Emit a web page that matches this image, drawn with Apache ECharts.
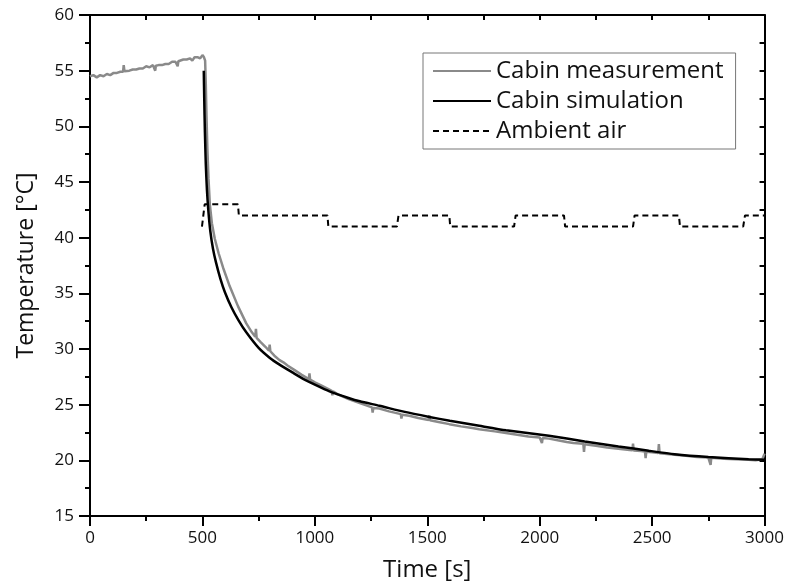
<!DOCTYPE html>
<html>
<head>
<meta charset="utf-8">
<script src="https://cdn.jsdelivr.net/npm/echarts@6/dist/echarts.min.js"></script>
<style>html,body{margin:0;padding:0;background:#fff}#c{width:787px;height:587px}</style>
</head>
<body>
<div id="c"></div>
<script>
// ---- data (time [s] / temperature [°C], aligned line by line) ----
var measTime = [
  0,15,30,45,60,75,90,105,120,135,
  147,150,153,
  175,190,205,220,235,250,265,280,
  287,290,293,
  305,320,335,350,365,380,
  387,390,393,
  400,415,430,445,455,465,480,490,500,507,512,
  515,518,522,527,533,542,555,572,592,621,658,695,
  720,735,738,741,760,780,
  796,799,802,
  820,843,860,880,910,940,
  973,976,979,
  1000,1030,1065,
  1075,1078,1081,
  1100,1150,1200,
  1254,1257,1260,
  1287,1330,
  1382,1385,1388,
  1420,1460,
  1506,1509,1512,
  1550,1598,1650,1700,1731,1800,1850,1900,1950,2000,
  2007,2010,2013,
  2041,2080,2120,2150,
  2194,2197,2200,
  2250,2300,2350,2400,
  2412,2415,2418,
  2450,
  2468,2471,2474,
  2500,
  2527,2530,2533,
  2600,2650,2700,2750,
  2757,2760,2763,
  2820,2870,2929,2960,2990,2996,3000
];
var measTemp = [
  54.5,54.6,54.4,54.6,54.5,54.7,54.6,54.8,54.8,54.9,
  54.9,55.5,54.95,
  55.0,55.1,55.1,55.2,55.2,55.4,55.3,55.5,
  55.4,55.0,55.45,
  55.5,55.5,55.6,55.6,55.8,55.8,
  55.8,55.4,55.85,
  55.9,56.0,56.0,56.1,55.9,56.2,56.2,56.1,56.4,56.2,55.9,
  53.8,51.0,48.0,45.3,43.0,41.3,39.9,38.6,37.3,35.65,33.85,32.3,
  31.5,31.1,31.8,31.0,30.6,30.2,
  29.85,30.4,29.8,
  29.4,29.0,28.8,28.5,28.1,27.7,
  27.3,27.8,27.25,
  27.0,26.7,26.35,
  26.25,25.85,26.2,
  25.95,25.5,25.15,
  24.75,24.3,24.7,
  24.65,24.4,
  24.15,23.75,24.1,
  24.0,23.8,
  23.62,24.05,23.6,
  23.45,23.25,23.05,22.9,22.8,22.6,22.45,22.3,22.15,22.05,
  22.02,21.55,22.0,
  21.95,21.8,21.65,21.55,
  21.48,20.75,21.45,
  21.3,21.15,21.05,20.92,
  20.9,21.5,20.88,
  20.83,
  20.79,20.2,20.77,
  20.72,
  20.66,21.45,20.64,
  20.5,20.4,20.3,20.25,
  20.24,19.6,20.23,
  20.15,20.1,20.05,20.0,20.1,20.15,20.6
];

var simTime = [506,508,511,515,520,526,535,547,560,580,600,629,660,695,750,800,843,900,950,1000,1065,1150,1200,1287,1400,1509,1600,1731,1850,2041,2200,2350,2485,2600,2750,2929,3000];
var simTemp = [55,52.5,49.5,46.6,44.3,42.5,40.6,39.0,37.8,36.3,35.1,33.75,32.6,31.5,30.1,29.2,28.6,27.9,27.3,26.8,26.2,25.6,25.3,24.9,24.35,23.9,23.55,23.1,22.7,22.2,21.7,21.25,20.86,20.55,20.3,20.1,20.05];

var ambTime = [498,510,658,662,1056,1060,1365,1372,1598,1602,1886,1893,2108,2113,2415,2422,2619,2624,2905,2913,3000];
var ambTemp = [41,43,43,42,42,41,41,42,42,41,41,42,42,41,41,42,42,41,41,42,42];

var seriesNames = ['Cabin measurement','Cabin simulation','Ambient air'];
var xTicks = {min:0, max:3000, interval:500};
var yTicks = {min:15, max:60, interval:5};

function zip(a,b){ return a.map(function(v,i){ return [v,b[i]]; }); }

var FONT = '"Open Sans", "Noto Sans", sans-serif';
var chart = echarts.init(document.getElementById('c'), null, {renderer:'canvas'});
var axisLine = {show:true, onZero:false, lineStyle:{color:'#000', width:2}};
chart.setOption({
  animation:false,
  backgroundColor:'#fff',
  grid:{left:90, top:15, right:21, bottom:70},
  legend:{
    data:seriesNames,
    orient:'vertical',
    left:423, top:53,
    itemWidth:58, itemHeight:14, itemGap:6,
    padding:[6,12,6,9],
    borderColor:'#777', borderWidth:1,
    itemStyle:{opacity:0},
    textStyle:{fontFamily:FONT, fontSize:24, lineHeight:24, color:'#111'}
  },
  xAxis:[{
    type:'value', min:xTicks.min, max:xTicks.max, interval:xTicks.interval,
    name:'Time [s]', nameLocation:'middle', nameGap:42,
    nameTextStyle:{fontFamily:FONT, fontSize:24, color:'#111'},
    axisLine:axisLine,
    axisTick:{show:true, inside:false, length:10, lineStyle:{color:'#000', width:2}},
    minorTick:{show:true, splitNumber:2, length:5, lineStyle:{color:'#000', width:2}},
    axisLabel:{fontFamily:FONT, fontSize:17, color:'#111', margin:14, formatter:function(v){return String(v);}},
    splitLine:{show:false}
  },{
    type:'value', position:'top', min:xTicks.min, max:xTicks.max, interval:xTicks.interval,
    axisLine:axisLine,
    axisTick:{show:true, inside:true, length:5, lineStyle:{color:'#000', width:2}},
    minorTick:{show:true, splitNumber:2, length:5, lineStyle:{color:'#000', width:2}},
    axisLabel:{show:false}, splitLine:{show:false}
  }],
  yAxis:[{
    type:'value', min:yTicks.min, max:yTicks.max, interval:yTicks.interval,
    name:'Temperature [°C]', nameLocation:'middle', nameGap:52,
    nameTextStyle:{fontFamily:FONT, fontSize:23, color:'#111'},
    axisLine:axisLine,
    axisTick:{show:true, inside:false, length:11, lineStyle:{color:'#000', width:2}},
    minorTick:{show:true, splitNumber:2, length:5, lineStyle:{color:'#000', width:2}},
    axisLabel:{fontFamily:FONT, fontSize:17, color:'#111', margin:16},
    splitLine:{show:false}
  },{
    type:'value', position:'right', min:yTicks.min, max:yTicks.max, interval:yTicks.interval,
    axisLine:axisLine,
    axisTick:{show:true, inside:true, length:5, lineStyle:{color:'#000', width:2}},
    minorTick:{show:true, splitNumber:2, length:5, lineStyle:{color:'#000', width:2}},
    axisLabel:{show:false}, splitLine:{show:false}
  }],
  series:[
    {name:seriesNames[0], type:'line', data:zip(measTime,measTemp), symbol:'none', showSymbol:false,
     lineStyle:{color:'#8a8a8a', width:2.5}, itemStyle:{color:'#8a8a8a'}, z:2},
    {name:seriesNames[1], type:'line', data:zip(simTime,simTemp), symbol:'none', showSymbol:false, smooth:0.2,
     lineStyle:{color:'#000', width:2.5}, itemStyle:{color:'#000'}, z:3},
    {name:seriesNames[2], type:'line', data:zip(ambTime,ambTemp), symbol:'none', showSymbol:false,
     lineStyle:{color:'#000', width:2, type:[6,4]}, itemStyle:{color:'#000'}, z:4}
  ]
});
</script>
</body>
</html>
